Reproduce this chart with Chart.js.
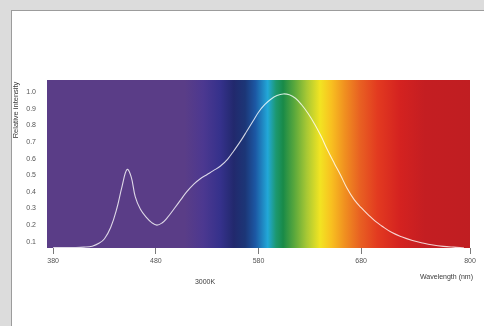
<!DOCTYPE html>
<html>
<head>
<meta charset="utf-8">
<script src="https://cdn.jsdelivr.net/npm/chart.js@4/dist/chart.umd.min.js"></script>
<style>
  html, body { margin: 0; padding: 0; }
  body { width: 484px; height: 326px; background: #dcdcdc; position: relative; overflow: hidden; }
  #sheet { position: absolute; left: 11px; top: 10px; right: 0; bottom: 0; background: #fff;
           border-left: 1px solid #9c9c9c; border-top: 1px solid #9c9c9c; }
  #spd { position: absolute; left: 0; top: 0; }
</style>
</head>
<body>
<div id="sheet"></div>
<canvas id="spd" width="484" height="326"></canvas>
<script>
// wavelength (nm) and relative spectral power of a 3000K white LED
const wavelengths = [380, 390, 400, 410, 418, 425, 430, 436, 442, 447, 452, 456, 460, 465, 471, 476,
  481, 486, 491, 498, 504, 510, 517, 523, 530, 536, 543, 550, 556, 563, 569, 575, 580, 586, 592,
  598, 604, 610, 616, 622, 628, 635, 641, 647, 654, 660, 666, 673, 680, 687, 694, 700, 710, 720,
  730, 740, 750, 760, 770, 780];
const intensity = [0.065, 0.065, 0.065, 0.067, 0.073, 0.092, 0.118, 0.185, 0.30, 0.43, 0.535, 0.49,
  0.37, 0.295, 0.245, 0.215, 0.20, 0.213, 0.243, 0.30, 0.35, 0.40, 0.447, 0.478, 0.505, 0.528, 0.556,
  0.598, 0.648, 0.71, 0.77, 0.83, 0.88, 0.925, 0.958, 0.98, 0.99, 0.985, 0.964, 0.925, 0.875, 0.805,
  0.735, 0.655, 0.57, 0.50, 0.425, 0.355, 0.305, 0.262, 0.222, 0.195, 0.155, 0.128, 0.107, 0.092,
  0.080, 0.072, 0.067, 0.063];

const xTicks = [380, 480, 580, 680, 786];
const xTickLabels = ['380', '480', '580', '680', '800'];
const yTicks = [0.1, 0.2, 0.3, 0.4, 0.5, 0.6, 0.7, 0.8, 0.9, 1.0];

const cctLabel = '3000K';
const xTitle = 'Wavelength (nm)';
const yTitle = 'Relative intensity';

// colour of the visible spectrum behind the plot, keyed by wavelength
const spectrumStops = [
  [374, '#5a3d87'], [508, '#5a3d87'], [526, '#4c3890'], [543, '#35318b'], [556, '#22296d'],
  [567, '#1c3677'], [577, '#1c58a4'], [589, '#22a8d8'], [597, '#1c9870'], [604, '#198a48'],
  [615, '#5aa83c'], [627, '#a8c834'], [640, '#f2e422'], [651, '#f8c020'], [664, '#f09020'],
  [679, '#e86022'], [696, '#e23a20'], [718, '#d42220'], [742, '#c41e22'], [786, '#c01e22']
];

const FONT = 'Liberation Sans, Arial, sans-serif';

const spectrumBackground = {
  id: 'spectrumBackground',
  beforeDatasetsDraw(chart) {
    const { ctx, chartArea: a, scales: { x } } = chart;
    const g = ctx.createLinearGradient(a.left, 0, a.right, 0);
    spectrumStops.forEach(([nm, c]) => {
      const t = (x.getPixelForValue(nm) - a.left) / (a.right - a.left);
      g.addColorStop(Math.min(1, Math.max(0, t)), c);
    });
    ctx.save();
    ctx.fillStyle = g;
    ctx.fillRect(a.left, a.top, a.right - a.left, a.bottom - a.top);
    ctx.restore();
  }
};

const captions = {
  id: 'captions',
  afterDraw(chart) {
    const { ctx } = chart;
    ctx.save();
    ctx.fillStyle = '#3a3a3a';
    ctx.font = '7px ' + FONT;
    ctx.textBaseline = 'middle';
    ctx.textAlign = 'center';
    ctx.fillText(cctLabel, 205, 282);
    ctx.textAlign = 'left';
    ctx.fillText(xTitle, 420, 277);
    ctx.translate(16, 110);
    ctx.rotate(-Math.PI / 2);
    ctx.textAlign = 'center';
    ctx.font = '7.5px ' + FONT;
    ctx.fillText(yTitle, 0, 0);
    ctx.restore();
  }
};

new Chart(document.getElementById('spd'), {
  type: 'line',
  data: {
    datasets: [{
      data: wavelengths.map((w, i) => ({ x: w, y: intensity[i] })),
      borderColor: 'rgba(255,255,255,0.8)',
      borderWidth: 1.1,
      pointRadius: 0,
      tension: 0.4,
      fill: false
    }]
  },
  options: {
    responsive: false,
    devicePixelRatio: 1,
    animation: false,
    layout: { padding: { left: 0, top: 80, right: 14, bottom: 0 } },
    plugins: { legend: { display: false }, tooltip: { enabled: false } },
    scales: {
      x: {
        type: 'linear',
        min: 374,
        max: 786,
        afterBuildTicks: s => { s.ticks = xTicks.map(v => ({ value: v })); },
        afterFit: s => { s.height = 78; },
        border: { display: false },
        grid: { drawOnChartArea: false, drawTicks: true, tickLength: 6, tickColor: '#7a7a7a', lineWidth: 1 },
        ticks: {
          padding: 3,
          maxRotation: 0,
          autoSkip: false,
          color: '#555',
          font: { family: FONT, size: 7 },
          callback: (v) => xTickLabels[xTicks.indexOf(v)]
        }
      },
      y: {
        min: 0.062,
        max: 1.074,
        afterBuildTicks: s => { s.ticks = yTicks.map(v => ({ value: v })); },
        afterFit: s => { s.width = 47; },
        border: { display: false },
        grid: { display: false },
        ticks: {
          padding: 3,
          color: '#555',
          font: { family: FONT, size: 7 },
          callback: v => v.toFixed(1)
        }
      }
    }
  },
  plugins: [spectrumBackground, captions]
});
</script>
</body>
</html>
